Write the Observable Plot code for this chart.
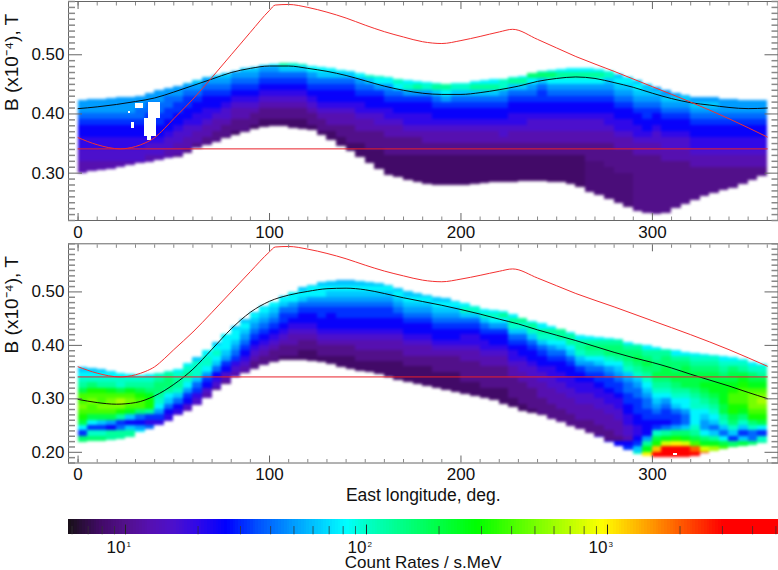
<!DOCTYPE html>
<html><head><meta charset="utf-8">
<script src="https://cdn.jsdelivr.net/npm/d3@7"></script>
<script src="https://cdn.jsdelivr.net/npm/@observablehq/plot@0.6"></script>
<style>
html,body{margin:0;padding:0;background:#fff}
#c{position:relative;width:778px;height:570px;overflow:hidden}
#c svg{position:absolute;left:0;overflow:visible;background:transparent}
</style></head><body><div id="c"></div>
<script>
// Longitude of the left edge of every 5-degree column
const lons = [0,5,10,15,20,25,30,35,40,45,50,55,60,65,70,75,80,85,90,95,100,105,110,115,120,125,130,135,140,145,150,155,160,165,170,175,180,185,190,195,200,205,210,215,220,225,230,235,240,245,250,255,260,265,270,275,280,285,290,295,300,305,310,315,320,325,330,335,340,345,350,355];

// Panel 1: lower / upper edge of the data in B, per column
const p1Bottom = [.299,.302,.305,.307,.310,.313,.316,.318,.322,.324,.327,.334,.341,.347,.3525,.358,.364,.369,.373,.377,.379,.378,.376,.374,.372,.364,.355,.345,.336,.326,.316,.306,.296,.292,.288,.284,.281,.279,.279,.279,.279,.281,.283,.284,.285,.285,.2855,.2855,.2855,.285,.285,.280,.275,.268,.262,.255,.248,.242,.236,.232,.230,.232,.240,.247,.254,.260,.265,.270,.274,.281,.288,.294];
const p1Top = [.423,.424,.425,.426,.427,.428,.430,.434,.439,.443,.4465,.452,.457,.461,.465,.469,.472,.476,.479,.482,.484,.485,.485,.483,.480,.478,.476,.473,.471,.468,.465,.463,.461,.458,.457,.455,.453,.451,.450,.451,.452,.454,.457,.458,.458,.461,.464,.468,.471,.473,.475,.476,.476,.476,.475,.471,.467,.462,.457,.450,.444,.440,.435,.431,.427,.427,.427,.425,.424,.423,.423,.423];
// Panel 1: log10(rate) x 10 per 0.01 B cell, bottom to top
const p1Rates = [
[11,11,11,12,12,13,13,14,14,15,16,17,17,17],[11,11,12,12,13,13,14,14,15,16,17,17,17],[11,11,12,12,13,13,14,14,15,16,17,17,17],[11,11,12,12,13,13,14,14,15,16,17,17,17],
[11,12,12,13,13,14,14,15,16,17,17,17],[11,12,12,13,13,14,14,15,16,17,17,17],[11,12,12,13,13,14,14,15,16,16,17,17],[11,11,12,12,13,14,14,15,15,16,16,17,17],
[11,12,12,13,14,14,15,15,16,16,17,17],[11,11,12,12,13,14,14,15,15,16,16,17,17],[10,11,11,12,12,13,14,14,15,15,16,17,17],[10,11,11,12,12,13,14,14,15,15,16,17,18],
[10,11,11,12,13,13,14,14,15,16,17,18],[10,10,11,11,12,13,13,14,14,15,16,17,18],[10,10,11,11,12,13,14,14,15,16,17,18],[9,10,10,11,12,12,13,14,15,16,17,18],
[9,10,10,11,11,12,13,14,15,16,17,18],[9,10,10,11,11,12,13,14,15,16,17,18],[9,10,10,11,12,13,14,15,16,17,18],[9,9,10,10,11,12,13,14,15,16,17,19],
[9,9,10,10,11,12,13,14,15,16,17,19],[9,9,10,10,11,12,13,14,15,16,18,21],[9,9,10,10,11,12,13,14,15,16,18,20],[9,9,10,10,11,12,13,14,15,16,18,20],
[9,10,10,11,12,13,14,15,16,17,19],[9,10,10,11,12,13,14,14,15,16,18,19],[9,9,10,11,11,12,13,14,14,15,16,18,19],[9,9,10,10,11,11,12,13,14,14,15,16,18,19],
[9,9,10,10,10,11,11,12,13,14,14,15,16,18,19],[9,9,9,10,10,11,11,12,13,13,14,15,16,17,19],[9,9,9,10,10,10,11,11,12,13,14,14,15,16,18,20],[9,9,9,9,10,10,10,11,12,12,13,14,14,15,17,19,20],
[9,9,9,9,10,10,10,11,11,12,13,13,14,15,16,17,19,20],[9,9,9,9,10,10,10,11,11,12,13,14,14,15,16,19,20],[9,9,9,9,9,10,10,10,11,12,13,13,14,14,15,17,20,19],[9,9,9,9,9,10,10,10,11,12,13,13,14,14,15,17,21,19],
[9,9,9,9,9,10,10,11,11,12,13,13,14,14,15,17,20,19],[9,9,9,9,9,9,10,10,11,11,12,13,14,14,15,16,18,21,19],[9,9,9,9,9,9,10,10,11,11,12,13,14,14,15,17,19,21],[9,9,9,9,9,9,10,10,11,11,12,13,14,14,15,16,18,20,19],
[9,9,9,9,9,9,10,10,11,11,12,13,14,14,15,16,18,20,19],[9,9,9,9,9,10,10,11,11,12,13,14,14,15,16,18,21,19],[9,9,9,9,9,10,10,11,11,12,13,14,14,15,16,18,21,19],[9,9,9,9,9,10,10,11,11,12,13,14,14,15,16,18,21,19],
[9,9,9,9,9,10,10,11,12,12,13,14,14,15,16,17,20,20],[9,9,9,9,9,10,10,11,11,12,13,13,14,14,15,16,18,21,19],[9,9,9,9,9,10,10,11,11,12,13,13,14,14,15,16,18,21,19],[9,9,9,9,9,10,10,11,11,12,12,13,14,14,15,16,17,19,22],
[9,9,9,9,9,10,10,11,11,12,12,13,14,14,15,15,16,18,22,19],[9,9,9,9,9,10,10,11,11,12,12,13,14,14,15,16,17,19,22,19],[9,9,9,9,9,10,10,11,11,12,12,13,14,14,15,16,17,19,21,19],[9,9,9,9,9,10,10,11,11,12,12,13,14,14,15,16,17,19,21,19],
[9,9,9,9,9,9,10,10,11,11,12,12,13,14,14,15,16,17,19,21,19],[9.5,9.5,9.5,9.5,9.5,9.5,10,10,10,11,11,12,12,13,14,14,15,16,17,19,21,19],[9.5,9.5,9.5,9.5,9.5,9.5,10,10,10,11,11,12,12,13,14,14,15,16,17,19,21,19],[9.5,9.5,9.5,9.5,9.5,9.5,10,10,10,10,11,11,12,13,13,14,14,15,16,17,18,20,19],
[9.5,9.5,9.5,9.5,9.5,9.5,10,10,10,10,11,11,12,13,13,14,14,15,16,17,18,19,18],[9.5,9.5,9.5,9.5,9.5,9.5,10,10,10,10,11,11,12,13,13,14,14,15,16,17,18,19,18],[10,10,10,10,10,10,10,10,10,10,11,11,12,13,13,14,14,15,16,17,18,19,18],[10,10,10,10,10,10,10,10,10,10,11,11,12,13,14,14,15,15,16,17,18,18],
[10,10,10,10,10,10,10,10,10,10,11,11,12,12,13,14,14,15,16,17,18,17],[10,10,10,10,10,10,10,10,10,11,11,12,12,13,14,14,15,16,17,18,17],[10,10,10,10,10,10,10,10,11,11,12,12,13,14,14,15,16,17,18,17],[10,10,10,10,10,10,10,10,11,11,12,12,13,14,14,15,16,17,18,17],
[10,10,10,10,10,10,11,11,12,13,13,14,14,15,16,17,18,17],[10,10,10,10,10,11,11,12,13,13,14,14,15,16,17,18,17],[10,10,10,10,10,11,11,12,13,13,14,14,15,16,17,18,17],[10,10,10,10,11,11,12,13,13,14,14,15,16,17,17,17],
[10,10,10,10,11,11,12,13,13,14,14,15,16,17,17,17],[10,10,10,11,11,12,13,13,14,14,15,16,17,17,17],[10,10,10,11,11,12,13,13,14,14,15,16,17,17,17],[10,10,11,11,12,13,13,14,14,15,16,17,17,17]
];
// Panel 1: bins without data [lon1, lon2, B1, B2]
const p1Gaps = [[37,43,.392,.42],[34.5,41,.362,.392],[36.5,38.5,.355,.362],[28,29.5,.375,.386],[26.5,27.5,.4,.404],[30,34,.41,.418]];

// Panel 2
const p2Bottom = [.218,.220,.221,.223,.224,.228,.2367,.243,.2493,.258,.268,.277,.2867,.300,.3147,.327,.3397,.348,.3553,.362,.3678,.371,.372,.371,.3697,.368,.3634,.359,.355,.352,.349,.345,.3395,.335,.3305,.327,.323,.319,.315,.311,.3074,.304,.301,.296,.29,.284,.277,.272,.268,.262,.2555,.249,.243,.235,.227,.219,.2117,.204,.196,.192,.19,.19,.19,.191,.193,.197,.2023,.205,.2086,.211,.2136,.216];
const p2Top = [.3587,.357,.3555,.351,.347,.345,.344,.345,.3474,.351,.3555,.366,.377,.391,.405,.421,.435,.449,.462,.472,.481,.491,.499,.508,.512,.517,.519,.521,.521,.520,.518,.515,.512,.507,.50,.497,.493,.490,.487,.482,.4775,.473,.468,.466,.4637,.457,.451,.445,.44,.435,.4306,.424,.418,.416,.415,.413,.4106,.406,.402,.399,.396,.393,.39,.387,.385,.383,.3806,.379,.3774,.373,.368,.364];
const p2Rates = [
[22,22,15,19,23,25,26,27,26,26,23,21,20,19,18],[22,20,15,19,23,26,26,27,26,25,22,20,19,18],[22,20,15,18,23,26,27,26,26,25,21,20,19,18],[21,21,14,17,23,26,27,27,26,24,21,20,19,18],
[21,21,16,15,21,25,27,28,26,23,20,20,19],[21,21,18,14,18,24,26,27,26,24,21,20,19],[19,17,14,16,22,26,26,25,23,21,20,19],[16,13,15,21,25,25,24,22,21,20,19],
[12,13,15,17,19,20,21,22,22,21,20],[12,13,14,16,18,19,21,22,22,21,19],[11,13,14,16,18,20,21,21,20,19],[11,12,14,15,17,19,20,21,20,19],
[11,12,13,15,16,18,20,20,20,18],[11,12,14,15,17,19,20,20,19,18],[10,12,13,14,16,18,19,20,19,18],[10,11,12,14,15,17,18,19,19,19,18],
[10,11,12,13,15,16,17,18,19,19,18],[10,11,12,13,14,15,16,17,18,19,18],[10,10,11,12,13,14,15,16,17,18,19,18],[10,10,11,12,13,14,15,16,17,18,19,18],
[9,10,10,11,12,13,14,15,16,17,18,19,18],[9,10,10,11,12,13,14,15,15,16,18,19,18],[9,10,10,11,11,12,13,14,15,16,17,19,19],[9,9,10,10,11,12,13,14,14,15,16,18,19,18],
[9,9,9,10,10,11,12,13,14,14,15,16,17,19,19,18],[9,9,10,10,11,12,13,14,14,15,15,16,17,19,19,18],[9,9,10,10,11,12,13,14,14,14,15,16,17,18,19,18],[9,9,9,10,10,11,12,13,14,14,15,15,16,17,18,19,18,17],
[9,9,9,10,10,11,12,13,14,14,15,15,16,17,18,19,18,17],[9,9,10,10,11,11,12,13,14,14,15,15,16,17,18,19,18],[9,9,9,10,10,11,11,12,13,14,14,15,15,16,17,18,19,18],[9,9,9,10,10,11,11,12,13,14,14,15,15,16,17,18,19,18],
[9,9,9,9,10,10,11,11,12,13,14,14,15,15,16,17,18,19,18],[9,9,9,9,10,10,11,11,12,13,14,14,15,16,17,18,19,18],[9,9,9,10,10,11,11,12,13,14,14,15,16,17,18,19,18],[9,9,9,9,10,10,11,11,12,13,14,14,15,16,17,18,19,18],
[9,9,9,9,10,10,11,11,12,13,14,14,15,16,17,18,19,18],[9,9,9,9,10,10,10,11,12,13,14,14,15,16,17,18,19,18],[9,9,9,9,10,10,10,11,12,13,14,14,15,16,17,18,19,18],[9,9,9,9,10,10,10,11,12,13,14,14,15,16,17,18,19,18],
[9,9,9,10,10,10,10,11,11,12,13,13,14,15,16,18,20,19],[9,9,9,10,10,10,10,11,11,12,13,13,14,15,16,18,20,19],[9,9,10,10,10,10,11,11,12,13,13,14,15,16,18,20,19],[9,9,9,10,10,10,10,11,11,12,13,14,14,15,17,19,20,19],
[9,9,9,10,10,10,10,11,11,12,13,14,14,15,17,19,21,19],[9,9,10,10,10,10,11,11,12,13,13,14,15,16,18,20,21,19],[9,9,10,10,10,10,11,11,12,12,13,14,14,15,16,18,20,21,19],[9,10,10,10,10,11,11,12,12,13,14,14,15,16,18,20,21,19],
[9,10,10,10,11,11,11,12,12,13,14,14,15,16,18,20,21,19],[10,10,10,11,11,11,12,12,13,13,14,15,16,17,19,20,21,19],[10,10,10,11,11,11,12,12,13,13,14,14,15,16,18,19,21,21,19],[10,10,10,11,11,11,12,12,13,13,14,14,15,16,18,19,21,21,19],
[10,10,11,11,11,12,12,13,13,14,14,15,17,18,20,21,21,19],[10,10,10,11,11,11,12,12,13,13,14,15,16,17,19,21,22,21,19],[13,10,10,11,11,11,12,12,13,13,14,15,15,16,18,19,21,22,21,19],[14,10,10,11,11,11,12,12,13,13,14,15,15,16,17,19,20,22,22,21,19],
[14,10,11,11,11,12,12,13,13,14,15,15,16,17,18,19,21,22,22,21,19],[15,14,11,12,12,13,13,14,14,15,15,16,16,17,18,20,21,22,22,21,19],[20,18,15,14,13,13,14,14,15,15,15,16,16,17,18,20,21,22,23,22,21,19],[30,24,21,17,14,14,14,15,15,16,16,17,18,19,20,21,22,23,22,21,19],
[35,31,25,23,20,15,14,15,16,17,18,19,20,21,22,23,22,22,21,21,19],[37,36,29,24,21,16,14,15,15,16,17,19,20,21,22,23,23,22,22,21,19],[37,37,30,25,22,17,15,15,16,18,19,20,21,22,23,23,22,22,21,19],[37,36,29,24,22,18,16,16,17,19,19,20,21,23,23,23,23,22,21,19],
[36,33,26,23,21,20,19,19,19,20,20,21,22,23,23,23,22,21,20,19],[35,29,24,22,19,17,17,18,19,20,21,22,23,24,23,23,22,21,20,19],[28,24,21,18,16,18,19,20,21,22,23,24,24,23,23,22,21,20,19],[26,23,19,16,18,20,21,23,23,24,24,24,24,23,22,21,20,19],
[24,22,15,18,20,22,23,25,25,26,26,25,24,23,23,22,20,19],[23,18,15,18,20,22,24,25,26,26,26,25,24,23,21,20,19],[22,16,16,20,22,25,26,27,27,27,26,24,23,22,20,19],[21,20,15,19,23,25,26,27,28,27,26,24,23,21,20,19]
];
const p2Gaps = [[311,313,.194,.197]];

// Curves, same red bound on both panels
const redLon = [0,10,22,30,35,40,45,50,60,70,80,90,100,103,110,120,130,140,150,160,170,180,190,200,210,220,227,240,260,280,300,320,340,360];
const redB = [.360,.348,.341,.345,.351,.360,.375,.392,.425,.462,.500,.538,.575,.584,.585,.580,.572,.562,.550,.539,.530,.522,.519,.524,.531,.5386,.543,.526,.497,.472,.446,.420,.392,.361];
const floorLon = [0,360];
const floorB = [.341,.341];
const blackLon = [0,10,20,30,40,50,60,70,80,90,100,110,120,130,140,150,160,170,180,190,200,210,220,230,240,250,260,270,280,290,300,310,320,330,340,350,360];
const p1Black = [.409,.412,.416,.421,.427,.437,.448,.459,.470,.477,.481,.481,.477,.472,.465,.456,.447,.440,.435,.433,.433,.436,.441,.447,.455,.460,.4625,.460,.453,.445,.435,.426,.419,.415,.411,.409,.410];
const p2Black = [.299,.293,.290,.293,.3055,.327,.3555,.393,.431,.462,.4825,.494,.501,.506,.507,.504,.497,.489,.482,.475,.467,.4585,.449,.44,.429,.419,.409,.398,.387,.377,.368,.3577,.346,.335,.324,.312,.3005];

// Colour table: log10(rate) and colour
const colorLog = [.7635,.9,1,1.1,1.2,1.3,1.42,1.55,1.7,1.85,1.92,2,2.46,2.98,3.48,3.708];
const colorHex = ["#181018","#420a68","#52108a","#5610b0","#4c10cc","#3008e8","#0000ff","#0050ff","#009cff","#00e0ff","#00ffff","#00ffc8","#00ff00","#ffff00","#ff0000","#ff0000"];
const colorScale = {type:"log",domain:colorLog.map(d=>10**d),range:colorHex,interpolate:"rgb"};

const xMajor = [0,100,200,300];
const xMinor = [0,10,20,30,40,50,60,70,80,90,110,120,130,140,150,160,170,180,190,210,220,230,240,250,260,270,280,290,310,320,330,340,350,360];
const barMajor = [10,100,1000];
const barMinor = [6,7,8,9,20,30,40,50,60,70,80,90,200,300,400,500,600,700,800,900,2000,3000,4000,5000];
const font = "'Liberation Sans',Arial,Helvetica,sans-serif";
const frameCol = "#666", minorCol = "#888";

function cells(bottom,top,rates){
  return rates.flatMap((col,i)=>{
    const n0 = Math.floor(bottom[i]*100+1e-9);
    return col.map((v,k)=>({
      x1:lons[i], x2:lons[i]+5,
      y1:k===0?bottom[i]:(n0+k)/100,
      y2:k===col.length-1?top[i]:(n0+k+1)/100,
      rate:10**(v/10)}));
  });
}
function panel(cfg){
  const {bottom,top,rates,gaps,black,domain,yMajor,yMinor,height,marginTop,marginBottom,xlabel} = cfg;
  const svg = Plot.plot({
    width:778,height,marginLeft:68,marginRight:0.5,marginTop,marginBottom,
    style:{fontFamily:font,fontSize:"17px",background:"transparent",color:"#000"},
    x:{domain:[-5,365.6]},
    y:{domain},
    color:colorScale,
    marks:[
      Plot.rect(cells(bottom,top,rates),{x1:"x1",x2:"x2",y1:"y1",y2:"y2",fill:"rate",shapeRendering:"crispEdges"}),
      Plot.rect(gaps,{x1:d=>d[0],x2:d=>d[1],y1:d=>d[2],y2:d=>d[3],fill:"#fff",shapeRendering:"crispEdges"}),
      Plot.line(blackLon.map((x,i)=>({x,y:black[i]})),{x:"x",y:"y",stroke:"#000",strokeWidth:0.9,curve:"monotone-x"}),
      Plot.line(redLon.map((x,i)=>({x,y:redB[i]})),{x:"x",y:"y",stroke:"#f43030",strokeWidth:1,curve:"monotone-x"}),
      Plot.line(floorLon.map((x,i)=>({x,y:floorB[i]})),{x:"x",y:"y",stroke:"#e8202a",strokeWidth:1}),
      Plot.frame({stroke:frameCol,strokeWidth:1}),
      Plot.axisX(xMinor,{anchor:"top",tickSize:-3.5,stroke:minorCol,tickFormat:()=>"",label:null}),
      Plot.axisX(xMajor,{anchor:"top",tickSize:-7,stroke:frameCol,tickFormat:()=>"",label:null}),
      Plot.axisX(xMinor,{anchor:"bottom",tickSize:-3.5,stroke:minorCol,tickFormat:()=>"",label:null}),
      Plot.axisX(xMajor,{anchor:"bottom",tickSize:-7,stroke:frameCol,tickPadding:12,tickFormat:d=>String(d),fontSize:17,fill:"#111",label:null}),
      Plot.axisY(yMinor,{anchor:"left",tickSize:-7,stroke:minorCol,strokeWidth:1.5,tickFormat:()=>"",label:null}),
      Plot.axisY(yMinor,{anchor:"right",tickSize:-7,stroke:minorCol,strokeWidth:1.5,tickFormat:()=>"",label:null}),
      Plot.axisY(yMajor,{anchor:"left",tickSize:-14,stroke:frameCol,tickPadding:18,tickFormat:d=>d.toFixed(2),fontSize:17,fill:"#111",label:null}),
      Plot.axisY(yMajor,{anchor:"right",tickSize:-14,stroke:frameCol,tickFormat:()=>"",label:null}),
      Plot.text(["B (x10\u207b\u2074), T"],{frameAnchor:"left",rotate:-90,dx:-57,fontSize:19,fill:"#111"}),
      xlabel?Plot.text([xlabel],{frameAnchor:"bottom",dy:38,fontSize:17.5,fill:"#111"}):null
    ]
  });
  // soften the 5-degree blocks the way the reference's resampled image is soft
  const g = svg.querySelector('g[aria-label="rect"]');
  if (g) g.style.filter = "blur(1.5px)";
  return svg;
}
const root = document.getElementById("c");
function place(svg,top){svg.style.top=top+"px";root.appendChild(svg);}
const yMinor1 = [.22,.23,.24,.25,.26,.27,.28,.29,.31,.32,.33,.34,.35,.36,.37,.38,.39,.41,.42,.43,.44,.45,.46,.47,.48,.49,.51,.52,.53,.54,.55,.56,.57,.58,.59];
const yMinor2 = [.18,.19,.21].concat(yMinor1);
place(panel({bottom:p1Bottom,top:p1Top,rates:p1Rates,gaps:p1Gaps,black:p1Black,domain:[.22,.59],yMajor:[.30,.40,.50],yMinor:yMinor1,height:242,marginTop:1,marginBottom:22}),0);
place(panel({bottom:p2Bottom,top:p2Top,rates:p2Rates,gaps:p2Gaps,black:p2Black,domain:[.18,.59],yMajor:[.20,.30,.40,.50],yMinor:yMinor2,height:262,marginTop:1.3,marginBottom:41.5,xlabel:"East longitude, deg."}),242);

const binEdges = d3.range(0,251).map(i=>10**(.7635+(3.708-.7635)*i/250));
const bins = binEdges.slice(0,-1).map((d,i)=>({x1:d,x2:binEdges[i+1],v:Math.sqrt(d*binEdges[i+1])}));
const bar = Plot.plot({
  width:778,height:68,marginLeft:68,marginRight:0.5,marginTop:17.3,marginBottom:35.7,
  style:{fontFamily:font,fontSize:"17px",background:"transparent",color:"#000"},
  x:{type:"log",domain:[5.8,5100],axis:null},
  y:{domain:[0,1],axis:null},
  color:colorScale,
  marks:[
    Plot.rect(bins,{x1:"x1",x2:"x2",y1:0,y2:1,fill:"v",shapeRendering:"crispEdges"}),
    Plot.ruleX(barMinor,{y1:0,y2:.55,stroke:"#333",strokeOpacity:.75,strokeWidth:1}),
    Plot.ruleX(barMajor,{y1:0,y2:.65,stroke:"#222",strokeWidth:1}),
    Plot.text(barMajor,{x:d=>d,frameAnchor:"bottom",dy:18,textAnchor:"end",text:()=>"10",fontSize:17,fill:"#111"}),
    Plot.text(barMajor,{x:d=>d,frameAnchor:"bottom",dy:12,dx:1,textAnchor:"start",text:d=>String(Math.round(Math.log10(d))),fontSize:8,fill:"#111"}),
    Plot.text(["Count Rates / s.MeV"],{frameAnchor:"bottom",dy:33,fontSize:17,fill:"#111"})
  ]
});
place(bar,502);
</script></body></html>
